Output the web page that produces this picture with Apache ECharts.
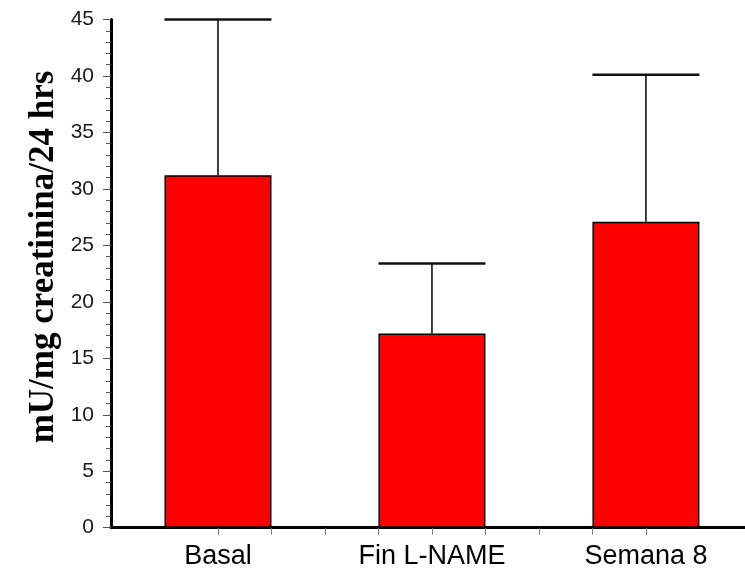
<!DOCTYPE html>
<html>
<head>
<meta charset="utf-8">
<script src="https://cdn.jsdelivr.net/npm/echarts@6/dist/echarts.min.js"></script>
<style>
  html, body { margin: 0; padding: 0; background: #fff; }
  #chart { width: 745px; height: 576px; }
</style>
</head>
<body>
<div id="chart"></div>
<script>
// Groups and their positions on the x scale
const categories = ['Basal', 'Fin L-NAME', 'Semana 8'];
const positions = [1, 2, 3];
// Mean values (mU/mg creatinina/24 hrs)
const means = [31.2, 17.2, 27.1];
// Upper end of each error bar
const upperBounds = [45.0, 23.4, 40.1];
// Tick positions along the x axis
const xTickValues = [1, 1.25, 1.5, 1.75, 2, 2.25, 2.5, 2.75, 3];
// Visible x range (the axis runs off the right edge)
const xMin = 0.5;
const xMax = 3.463;
const yAxisTitle = 'mU/mg creatinina/24 hrs';

const barData = positions.map((p, i) => [p, means[i]]);
const errData = positions.map((p, i) => [p, upperBounds[i], means[i]]);

const chart = echarts.init(document.getElementById('chart'), null, { renderer: 'canvas' });

chart.setOption({
  animation: false,
  backgroundColor: '#ffffff',
  grid: { left: 111, right: 0, top: 19.5, bottom: 48.3, containLabel: false },
  xAxis: {
    type: 'value',
    min: xMin,
    max: xMax,
    splitLine: { show: false },
    axisLine: { show: true, onZero: false, lineStyle: { color: '#000', width: 3 } },
    axisTick: {
      show: true,
      customValues: xTickValues,
      length: 7,
      lineStyle: { color: '#777', width: 1 }
    },
    axisLabel: {
      customValues: positions,
      margin: 15,
      color: '#000',
      fontFamily: 'Liberation Sans, Arial, sans-serif',
      fontSize: 27,
      formatter: v => categories[positions.indexOf(v)] || ''
    }
  },
  yAxis: {
    type: 'value',
    min: 0,
    max: 45,
    interval: 5,
    splitLine: { show: false },
    axisLine: { show: true, lineStyle: { color: '#000', width: 3 } },
    axisTick: { show: true, inside: false, length: 8, lineStyle: { color: '#555', width: 1 } },
    minorTick: { show: true, splitNumber: 5, length: 5, lineStyle: { color: '#555', width: 1 } },
    axisLabel: {
      margin: 17,
      color: '#1a1a1a',
      fontFamily: 'Liberation Sans, Arial, sans-serif',
      fontSize: 21
    }
  },
  graphic: [{
    type: 'text',
    x: 44,
    y: 257,
    rotation: Math.PI / 2,
    style: {
      text: yAxisTitle,
      fill: '#000',
      font: 'bold 35px "Liberation Serif", "Times New Roman", serif',
      textAlign: 'center',
      textVerticalAlign: 'middle'
    }
  }],
  series: [
    {
      type: 'bar',
      data: barData,
      barWidth: 107,
      itemStyle: { color: '#ff0000', borderColor: '#000', borderWidth: 1.5 },
      z: 2
    },
    {
      type: 'custom',
      data: errData,
      z: 3,
      renderItem: function (params, api) {
        const x = api.value(0);
        const top = api.coord([x, api.value(1)]);
        const base = api.coord([x, api.value(2)]);
        const half = api.size([0.5, 0])[0] / 2;
        return {
          type: 'group',
          children: [
            {
              type: 'line',
              shape: { x1: top[0], y1: top[1], x2: base[0], y2: base[1] },
              style: { stroke: '#000', lineWidth: 1.5 }
            },
            {
              type: 'line',
              shape: { x1: top[0] - half, y1: top[1], x2: top[0] + half, y2: top[1] },
              style: { stroke: '#111', lineWidth: 2.5 }
            }
          ]
        };
      }
    }
  ]
});
</script>
</body>
</html>
